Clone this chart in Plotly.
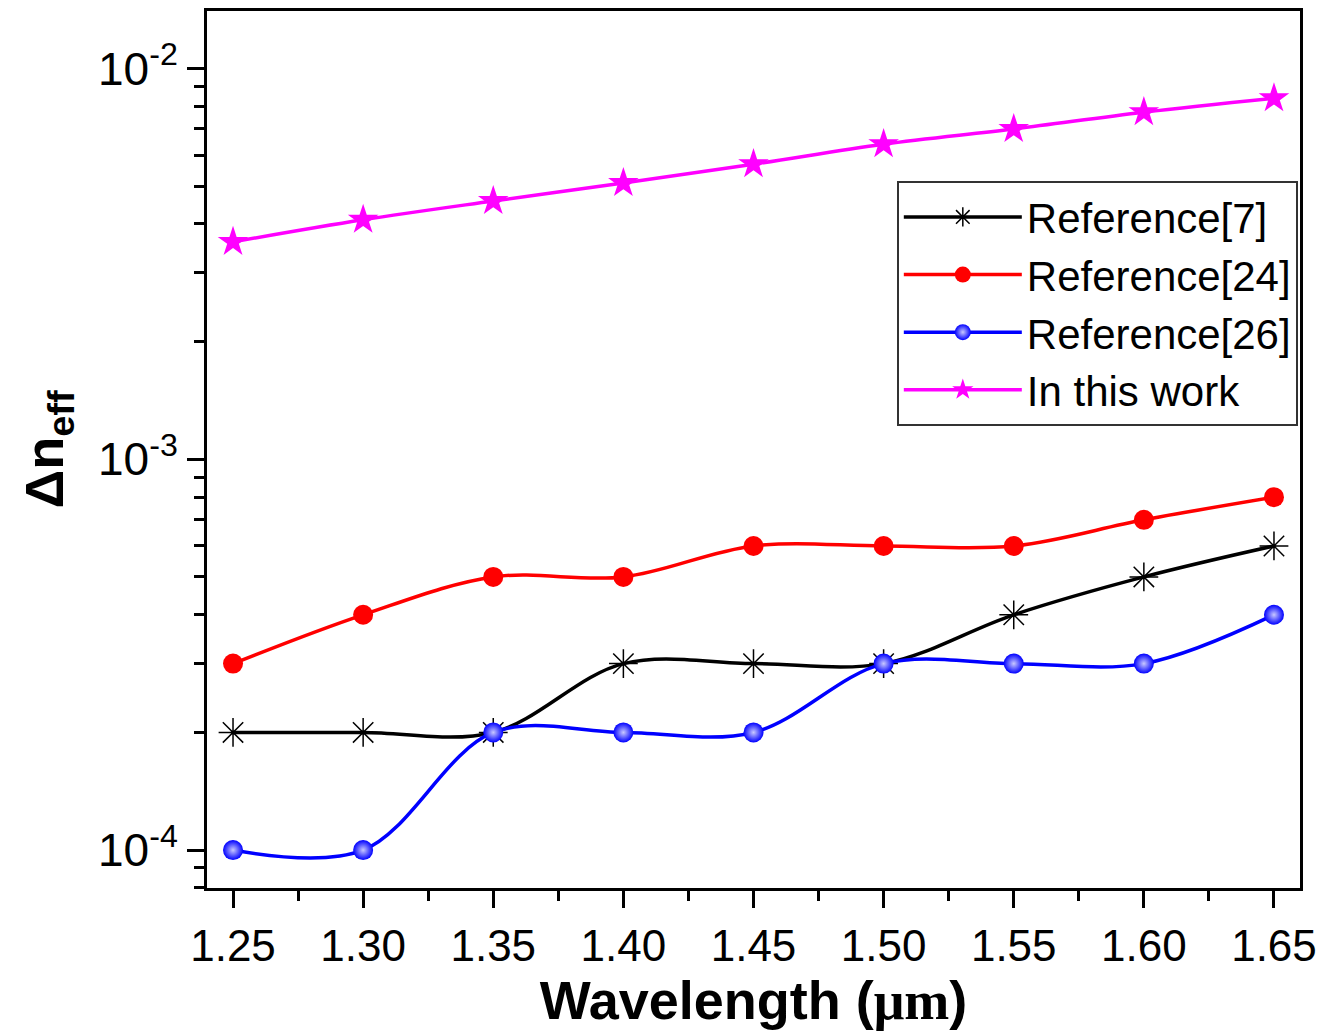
import plotly.graph_objects as go

wavelength = [1.25, 1.30, 1.35, 1.40, 1.45, 1.50, 1.55, 1.60, 1.65]
ref7 = [2e-4, 2e-4, 2e-4, 3e-4, 3e-4, 3e-4, 4e-4, 5e-4, 6e-4]
ref24 = [3e-4, 4e-4, 5e-4, 5e-4, 6e-4, 6e-4, 6e-4, 7e-4, 8e-4]
ref26 = [1e-4, 1e-4, 2e-4, 2e-4, 2e-4, 3e-4, 3e-4, 3e-4, 4e-4]
this_work = [3.6e-3, 4.1e-3, 4.58e-3, 5.09e-3, 5.69e-3, 6.4e-3, 7.0e-3, 7.73e-3, 8.39e-3]

y_major = [1e-4, 1e-3, 1e-2]
y_major_text = ["10<sup>-4</sup>", "10<sup>-3</sup>", "10<sup>-2</sup>"]
x_tick_labels = ["1.25", "1.30", "1.35", "1.40", "1.45", "1.50", "1.55", "1.60", "1.65"]

y_minor = [m * d for d in [1e-5, 1e-4, 1e-3] for m in range(2, 10)]
x_minor = [round((a + b) / 2, 3) for a, b in zip(wavelength[:-1], wavelength[1:])]

fig = go.Figure()
fig.add_trace(go.Scatter(x=wavelength, y=ref7, name="Reference[7]", mode="lines+markers",
                         line=dict(color="black", width=3.5, shape="spline"),
                         marker=dict(symbol="asterisk-open", size=24, color="black",
                                     line=dict(width=1.5, color="black"))))
fig.add_trace(go.Scatter(x=wavelength, y=ref24, name="Reference[24]", mode="lines+markers",
                         line=dict(color="#ff0000", width=3.5, shape="spline"),
                         marker=dict(symbol="circle", size=20, color="#ff0000")))
fig.add_trace(go.Scatter(x=wavelength, y=ref26, name="Reference[26]", mode="lines+markers",
                         line=dict(color="#0000ff", width=3.5, shape="spline"),
                         marker=dict(symbol="circle", size=20, color="#0000ff",
                                     gradient=dict(type="radial", color="#c8c8ff"))))
fig.add_trace(go.Scatter(x=wavelength, y=this_work, name="In this work", mode="lines+markers",
                         line=dict(color="#ff00ff", width=3.5, shape="spline"),
                         marker=dict(symbol="star", size=23, color="#ff00ff")))

fig.update_layout(
    width=1342, height=1034,
    margin=dict(l=207, r=42, t=8, b=146),
    paper_bgcolor="white", plot_bgcolor="white",
    font=dict(family="Liberation Sans, Arial", color="black"),
    legend=dict(x=0.998, y=0.806, xanchor="right", yanchor="top",
                bordercolor="#333333", borderwidth=2, bgcolor="white",
                font=dict(family="Liberation Sans, Arial", size=42, color="black"),
                tracegroupgap=0, itemwidth=118),
    xaxis=dict(
        range=[1.24, 1.66],
        tickmode="array", tickvals=wavelength, ticktext=x_tick_labels,
        ticks="outside", ticklen=17, tickwidth=3, tickcolor="black",
        tickfont=dict(family="Liberation Sans, Arial", size=44, color="black"),
        showline=True, linewidth=3, linecolor="black", mirror=True,
        showgrid=False, zeroline=False,
        minor=dict(tickvals=x_minor, ticks="outside", ticklen=10, tickwidth=3,
                   tickcolor="black", showgrid=False),
        title=dict(text="<b>Wavelength (</b><span style=\"font-family:'Liberation Serif'\"><b>μm</b></span><b>)</b>",
                   font=dict(family="Liberation Sans, Arial", size=54, color="black"),
                   standoff=8),
    ),
    yaxis=dict(
        type="log",
        range=[-4.097, -1.853],
        tickmode="array", tickvals=y_major, ticktext=y_major_text,
        ticks="outside", ticklen=17, tickwidth=3, tickcolor="black",
        tickfont=dict(family="Liberation Sans, Arial", size=46, color="black"),
        showline=True, linewidth=3, linecolor="black", mirror=True,
        showgrid=False, zeroline=False,
        minor=dict(tickvals=y_minor, ticks="outside", ticklen=10, tickwidth=3,
                   tickcolor="black", showgrid=False),
        title=dict(text="<b>Δn<sub>eff</sub></b>",
                   font=dict(family="Liberation Sans, Arial", size=54, color="black"),
                   standoff=18),
    ),
)

fig.write_html("out.html")
